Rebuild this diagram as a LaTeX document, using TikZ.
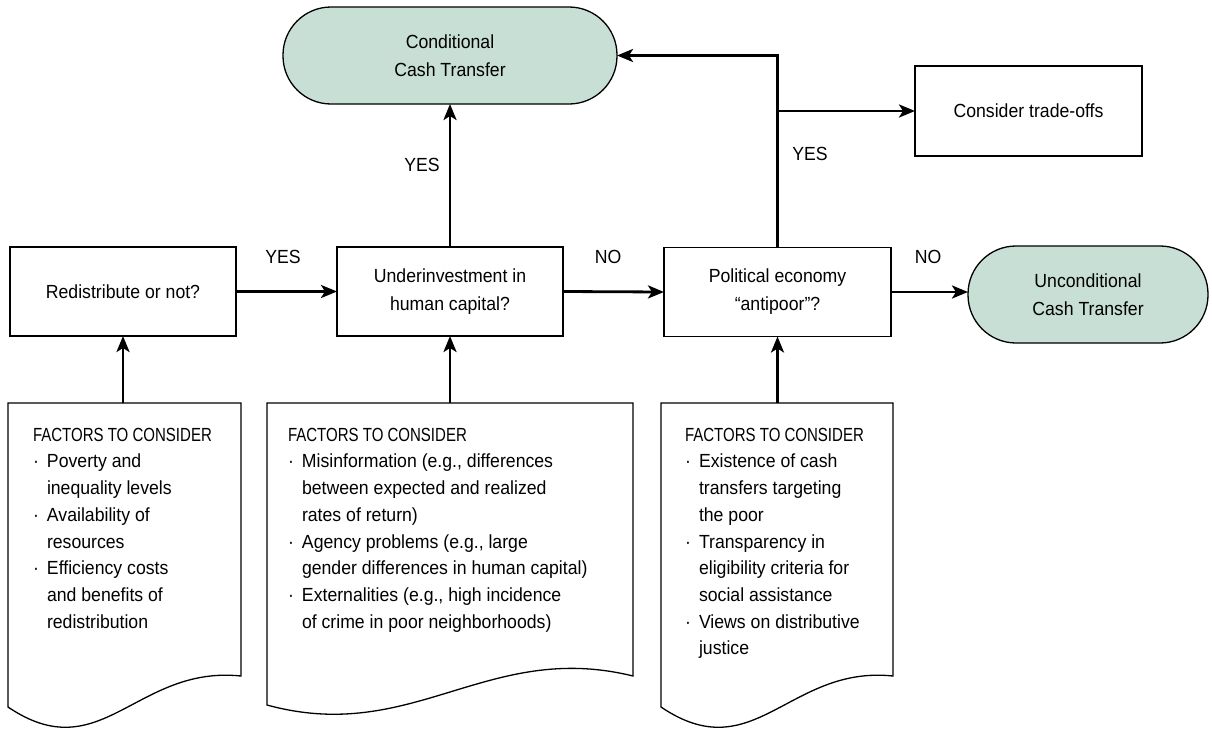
\documentclass[tikz,border=0pt]{standalone}
\usepackage{fontspec}
\usepackage{graphicx}
\setmainfont{Liberation Sans}[FakeStretch=0.93]
\usetikzlibrary{arrows.meta,calc}
\definecolor{pillfill}{RGB}{200,223,213}
\newcommand{\bulx}{\makebox[14pt][l]{·}}
\newcommand{\indx}{\hspace*{14pt}}
\newcommand{\factorshead}{\scalebox{0.85}[1]{FACTORS TO CONSIDER}}
\begin{document}
\begin{tikzpicture}[x=1pt,y=-1pt,
  every node/.style={inner sep=0pt,outer sep=0pt},
  qbox/.style={draw=black,line width=1.3pt,rectangle,minimum width=226pt,minimum height=89pt,align=center,font=\fontsize{19}{28}\selectfont},
  pill/.style={draw=black,line width=1.3pt,fill=pillfill,rectangle,rounded corners=48pt,minimum height=97pt,align=center,font=\fontsize{19}{28}\selectfont},
  docarea/.style={rectangle,anchor=north west},
  doctext/.style={anchor=north west,align=left,font=\fontsize{19}{26.7}\selectfont},
  docline/.style={draw=black,line width=1.3pt,line join=miter},
  lbl/.style={font=\fontsize{19}{20}\selectfont},
  arr/.style={line width=2.8pt,-{Stealth[length=16pt,width=13pt,inset=4pt]}}
]
\useasboundingbox (0,0) rectangle (1212,728);

% decision boxes
\node[qbox] (b1) at (123,291.5) {Redistribute or not?};
\node[qbox] (b2) at (450,291.5) {Underinvestment in\\human capital?};
\node[qbox,minimum width=227pt] (b3) at (777.5,292) {Political economy\\``antipoor''?};
\node[qbox,minimum width=227pt,minimum height=90pt] (tr) at (1028.5,111) {Consider trade-offs};

% terminal pills
\node[pill,minimum width=334pt] (cct) at (450,55.5) {Conditional\\Cash Transfer};
\node[pill,minimum width=240pt] (uct) at (1088,294.5) {Unconditional\\Cash Transfer};

% document shapes (areas)
\node[docarea,minimum width=233pt,minimum height=304pt] (d1) at (8,403) {};
\node[docarea,minimum width=366pt,minimum height=302pt] (d2) at (267,403) {};
\node[docarea,minimum width=232pt,minimum height=304pt] (d3) at (661,403) {};

\draw[docline] (d1.south west) -- (d1.north west) -- (d1.north east) -- ($(d1.north east)+(0,273)$)
  .. controls (136,665) and (101,770) .. (d1.south west) -- cycle;
\draw[docline] (d2.south west) -- (d2.north west) -- (d2.north east) -- ($(d2.north east)+(0,273)$)
  .. controls (487,640) and (413,745) .. (d2.south west) -- cycle;
\draw[docline] (d3.south west) -- (d3.north west) -- (d3.north east) -- ($(d3.north east)+(0,273)$)
  .. controls (789,665) and (754,770) .. (d3.south west) -- cycle;

\node[doctext] (t1) at ($(d1.north west)+(25,25)$) {\factorshead\\
\bulx Poverty and\\
\indx inequality levels\\
\bulx Availability of\\
\indx resources\\
\bulx Efficiency costs\\
\indx and benefits of\\
\indx redistribution};

\node[doctext] (t2) at ($(d2.north west)+(21,25)$) {\factorshead\\
\bulx Misinformation (e.g., differences\\
\indx between expected and realized\\
\indx rates of return)\\
\bulx Agency problems (e.g., large\\
\indx gender differences in human capital)\\
\bulx Externalities (e.g., high incidence\\
\indx of crime in poor neighborhoods)};

\node[doctext] (t3) at ($(d3.north west)+(24,25)$) {\factorshead\\
\bulx Existence of cash\\
\indx transfers targeting\\
\indx the poor\\
\bulx Transparency in\\
\indx eligibility criteria for\\
\indx social assistance\\
\bulx Views on distributive\\
\indx justice};

% connectors
\draw[arr] (b1.east) -- (b2.west);
\draw[arr] (b2.east) -- (b3.west);
\draw[arr] (b3.east) -- (b3.east -| uct.west);
\draw[arr] (b2.north) -- (cct.south);
\draw[arr] (b3.north) |- (cct.east);
\draw[arr] (b3.north |- tr.west) -- (tr.west);
\draw[arr] (b1.south |- d1.north) -- (b1.south);
\draw[arr] (b2.south |- d2.north) -- (b2.south);
\draw[arr] (b3.south |- d3.north) -- (b3.south);

% labels
\node[lbl] (l1) at (283,257) {YES};
\node[lbl] (l2) at (608,257) {NO};
\node[lbl] (l3) at (928,257) {NO};
\node[lbl] (l4) at (422,165) {YES};
\node[lbl] (l5) at (810,154) {YES};
\end{tikzpicture}
\end{document}
